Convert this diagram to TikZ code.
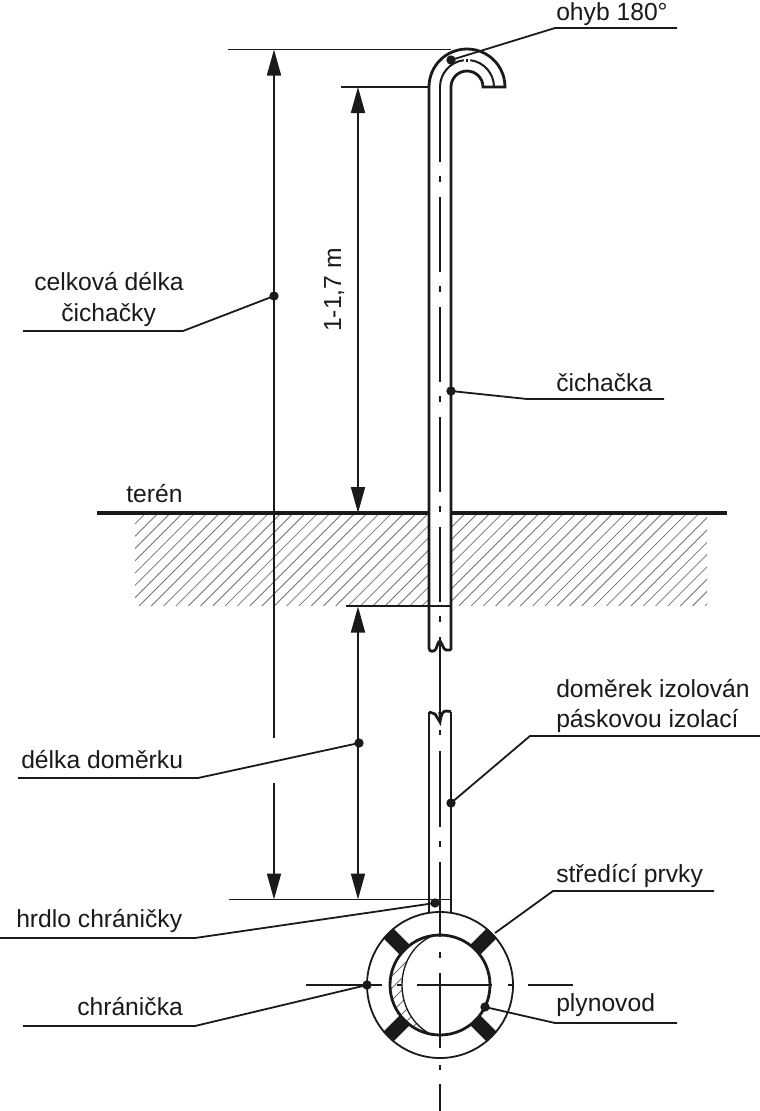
\documentclass[tikz,border=0pt]{standalone}
\usepackage{fontspec}
\setmainfont{Liberation Sans}
\usetikzlibrary{arrows.meta}
\definecolor{ink}{HTML}{1A1A1A}
\tikzset{
  px/.style={x=0.75pt,y=-0.75pt},
  wall/.style={draw=ink,line width=2.1pt},
  thin/.style={draw=ink,line width=1.35pt},
  ground/.style={draw=ink,line width=2.4pt},
  axisl/.style={draw=ink,line width=1.4pt,dash pattern=on 56.25pt off 10.5pt on 4.5pt off 11.25pt},
  axiss/.style={draw=ink,line width=1.4pt},
  hatchl/.style={draw=black!55,line width=0.6pt},
  dim/.style={draw=ink,line width=1.3pt},
  tipend/.style={-{Triangle[length=19.5pt,width=10.5pt,color=ink]}},
  tipboth/.style={{Triangle[length=19.5pt,width=10.5pt,color=ink]}-{Triangle[length=19.5pt,width=10.5pt,color=ink]}},
  dotn/.style={circle,fill=ink,inner sep=0pt,minimum size=7pt},
  lbl/.style={anchor=base west,inner sep=0pt,text=ink,font=\fontsize{18.5}{22}\selectfont},
  lead/.style={draw=ink,line width=1.35pt},
  block/.style={draw=ink,line width=10.5pt},
}
\begin{document}
\begin{tikzpicture}[px]
\useasboundingbox (0,0) rectangle (760,1111);
\fill[white] (0,0) rectangle (760,1111);

% hatching of the ground
\begin{scope}
  \clip (135,514) rectangle (429,606) (451,514) rectangle (707,606);
  \foreach \k in {-8,...,46}
    \draw[hatchl] ({139+12.3*\k},606) -- ({139+12.3*\k+92},514);
\end{scope}

% pipe: upper section with the bend
\draw[wall] (429,649) -- (429,87) arc[start angle=180,end angle=0,radius=28.5pt] -- (483,87)
            arc[start angle=0,end angle=180,radius=12pt] -- (451,650);
\draw[thin,line width=1.5pt] (440,87) arc[start angle=180,end angle=97,radius=20.25pt];
\draw[thin,line width=1.5pt] (494,87) arc[start angle=0,end angle=83,radius=20.25pt];
\draw[thin] (467,58.5) -- (467,62);
% broken ends
\draw[wall] (429,649) .. controls (430,652) and (434,652) .. (436,649) .. controls (437,646) and (438,642) .. (440,641)
            .. controls (442,643) and (443,649) .. (446,650) -- (451,650);
\draw[wall] (429,712) -- (435,714) -- (440,722) .. controls (441,714) and (443,711) .. (446,711) -- (451,711.5);
\draw[wall] (429,712) -- (429,912) (451,711.5) -- (451,912);

% axis of the pipe
\draw[axisl] (440,87) -- (440,640);
\draw[axiss] (440,641) -- (440,712);
\fill[ink] (438.3,712) -- (441.7,712) -- (440,726) -- cycle;
\draw[axiss] (440,730) -- (440,735) (440,751) -- (440,827) (440,841) -- (440,847) (440,862) -- (440,937)
   (440,952) -- (440,958) (440,973) -- (440,1048) (440,1065) -- (440,1070) (440,1084) -- (440,1111);
\draw[axiss] (306,985) -- (382,985) (397,985) -- (402,985) (417,985) -- (492,985) (508,985) -- (513,985) (528,985) -- (573,985);

% sleeve and gas pipe
\coordinate (C) at (440,985);
\draw[thin] (C) circle[radius=54.75pt];
\begin{scope}
  \clip (C) circle[radius=37.5pt];
  \clip (432,936) .. controls (412,945) and (402,965) .. (402,985) .. controls (402,1005) and (412,1025) .. (432,1035)
        -- (380,1035) -- (380,936) -- cycle;
  \foreach \k in {0,...,12}
    \draw[hatchl] (375,{945+12*\k}) -- (435,{885+12*\k});
\end{scope}
\draw[draw=ink,line width=1pt] (432,936) .. controls (412,945) and (402,965) .. (402,985) .. controls (402,1005) and (412,1025) .. (432,1035);
\draw[wall] (C) circle[radius=37.5pt];
\draw[block] (404.6,949.6) -- (388.4,933.4);
\draw[block] (475.4,949.6) -- (491.6,933.4);
\draw[block] (404.6,1020.4) -- (388.4,1036.6);
\draw[block] (475.4,1020.4) -- (491.6,1036.6);

% ground line
\draw[ground] (97,513) -- (429,513) (451,513) -- (727,513);

% extension lines
\coordinate (e1a) at (228,49.5); \coordinate (e1b) at (451,49.5);
\coordinate (e2a) at (341,87);   \coordinate (e2b) at (429,87);
\coordinate (e3a) at (346,606);  \coordinate (e3b) at (451,606);
\coordinate (e4a) at (229,899.5);\coordinate (e4b) at (451,899.5);
\draw[thin] (e1a) -- (e1b);
\draw[thin] (e2a) -- (e2b);
\draw[thin] (e3a) -- (e3b);
\draw[thin] (e4a) -- (e4b);

% dimensions
\coordinate (t1) at (274,49.5); \coordinate (g1a) at (274,738); \coordinate (g1b) at (274,783); \coordinate (b1) at (274,899.5);
\draw[dim,tipend] (g1a) -- (t1);
\draw[dim,tipend] (g1b) -- (b1);
\coordinate (t2) at (358,87); \coordinate (b2) at (358,513);
\draw[dim,tipboth] (t2) -- (b2);
\coordinate (t3) at (358,606.5); \coordinate (b3) at (358,899.5);
\draw[dim,tipboth] (t3) -- (b3);

% labels
\node[lbl] (tohyb) at (556,20) {ohyb 180°};
\node[lbl] (tcelk) at (34,290) {celková délka};
\node[lbl] (tcich) at (61,321) {čichačky};
\node[lbl,rotate=90] (tdim) at (341,332) {1-1,7 m};
\node[lbl] (ticha) at (556,391) {čichačka};
\node[lbl] (tter) at (126,502) {terén};
\node[lbl] (tdom) at (556,697) {doměrek izolován};
\node[lbl] (tpas) at (556,727) {páskovou izolací};
\node[lbl] (tdel) at (21,768) {délka doměrku};
\node[lbl] (tstr) at (556,882) {středící prvky};
\node[lbl] (thrd) at (16,927) {hrdlo chráničky};
\node[lbl] (tchr) at (77,1015) {chránička};
\node[lbl] (tply) at (556,1011) {plynovod};

% leaders
\node[dotn] (d1) at (451,60) {};
\coordinate (k1) at (555,28); \coordinate (f1) at (677,28);
\draw[lead] (d1.center) -- (k1) -- (f1);
\node[dotn] (d2) at (274,296) {};
\coordinate (k2) at (183,331); \coordinate (f2) at (23,331);
\draw[lead] (d2.center) -- (k2) -- (f2);
\node[dotn] (d3) at (451,391) {};
\coordinate (k3) at (527,399); \coordinate (f3) at (664,399);
\draw[lead] (d3.center) -- (k3) -- (f3);
\node[dotn] (d4) at (451,803) {};
\coordinate (k4) at (530,736); \coordinate (f4) at (760,736);
\draw[lead] (d4.center) -- (k4) -- (f4);
\node[dotn] (d5) at (359,743) {};
\coordinate (k5) at (198,778); \coordinate (f5) at (18,778);
\draw[lead] (d5.center) -- (k5) -- (f5);
\coordinate (d6) at (495,933);
\coordinate (k6) at (553,891); \coordinate (f6) at (714,891);
\draw[lead] (d6) -- (k6) -- (f6);
\node[dotn] (d7) at (435,903) {};
\coordinate (k7) at (195,938); \coordinate (f7) at (0,938);
\draw[lead] (d7.center) -- (k7) -- (f7);
\node[dotn] (d8) at (367,985) {};
\coordinate (k8) at (195,1026); \coordinate (f8) at (23,1026);
\draw[lead] (d8.center) -- (k8) -- (f8);
\node[dotn] (d9) at (485,1007) {};
\coordinate (k9) at (555,1023); \coordinate (f9) at (677,1023);
\draw[lead] (d9.center) -- (k9) -- (f9);
\end{tikzpicture}
\end{document}
